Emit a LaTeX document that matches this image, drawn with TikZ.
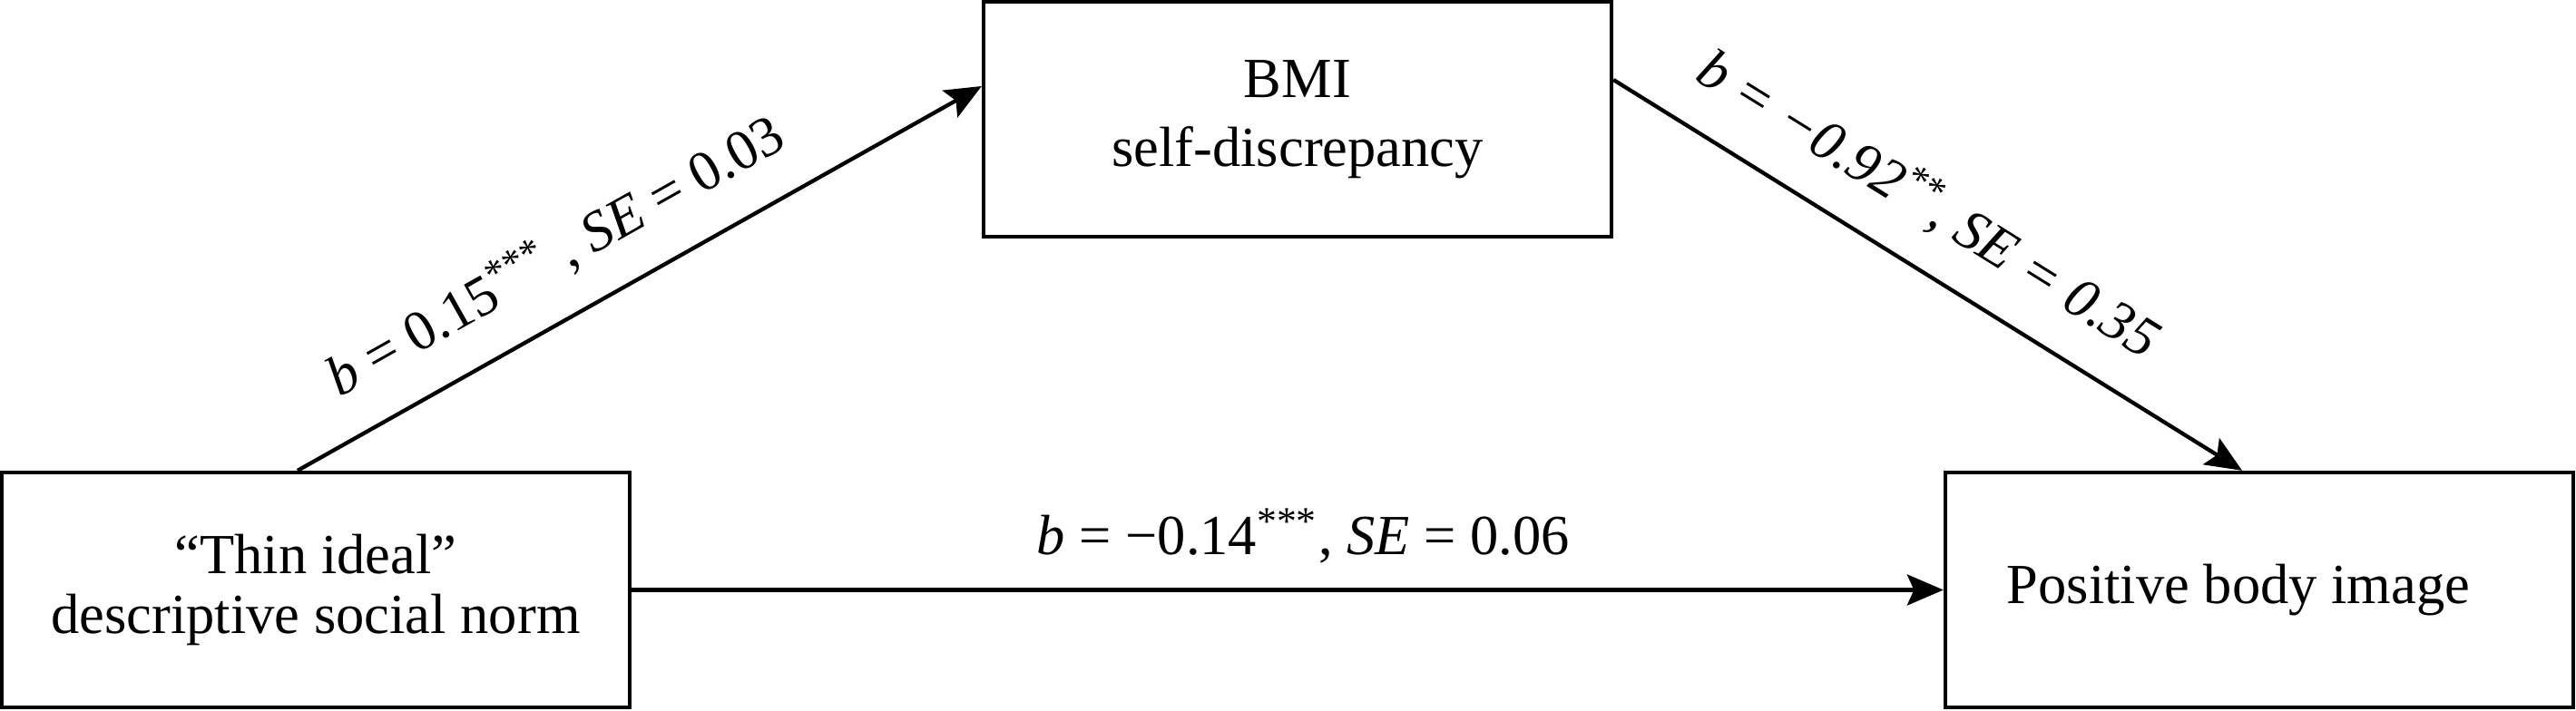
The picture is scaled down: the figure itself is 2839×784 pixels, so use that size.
\documentclass[tikz,border=0pt]{standalone}
\usepackage{fontspec}
\setmainfont{Liberation Serif}
\usetikzlibrary{arrows.meta}
\newcommand*{\boxwd}{138.4pt}
\newcommand*{\boxht}{51.8pt}
\newcommand*{\lw   }{0.86pt}

\begin{document}
\begin{tikzpicture}[x=0.2pt, y=-0.2pt, font=\fontsize{12.5}{13.2}\selectfont,
    var/.style  = {draw, line width=\lw, minimum width=\boxwd, minimum height=\boxht, align=center, inner sep=0pt},
    path/.style = {line width=\lw, -{Stealth[length=8pt, width=6.8pt, inset=1.5pt]}},
    coef/.style = {above, text depth=0pt, inner xsep=0pt, inner ysep=9pt}]
    \useasboundingbox (0,0) rectangle (2839,784);
    % variables
    \node [var] (thin) at ( 348,650.5) {“Thin ideal”\\descriptive social norm};
    \node [var] (bmi)  at (1430,131.5) {BMI\\[2pt]self-discrepancy};
    \node [var] (pbi)  at (2490,650.5) {Positive body image\hspace*{9.2pt}};
    % paths
    \draw [path] ([xshift=-4pt]thin.north) -- node [coef, sloped, pos=0.42] {\textit{b} = 0.15\textsuperscript{***} , \textit{SE} = 0.03} ([yshift=7.3pt]bmi.west);
    \draw [path] ([yshift=8.7pt]bmi.east) -- node [coef, sloped, pos=0.45] {\itshape b = −0.92\textsuperscript{**}, SE = 0.35} ([xshift=-3.8pt]pbi.north);
    \draw [path] (thin) -- node [coef, inner ysep=7.4pt, pos=0.512] {\textit{b} = −0.14\textsuperscript{***}, \textit{SE} = 0.06} (pbi);
\end{tikzpicture}
\end{document}
